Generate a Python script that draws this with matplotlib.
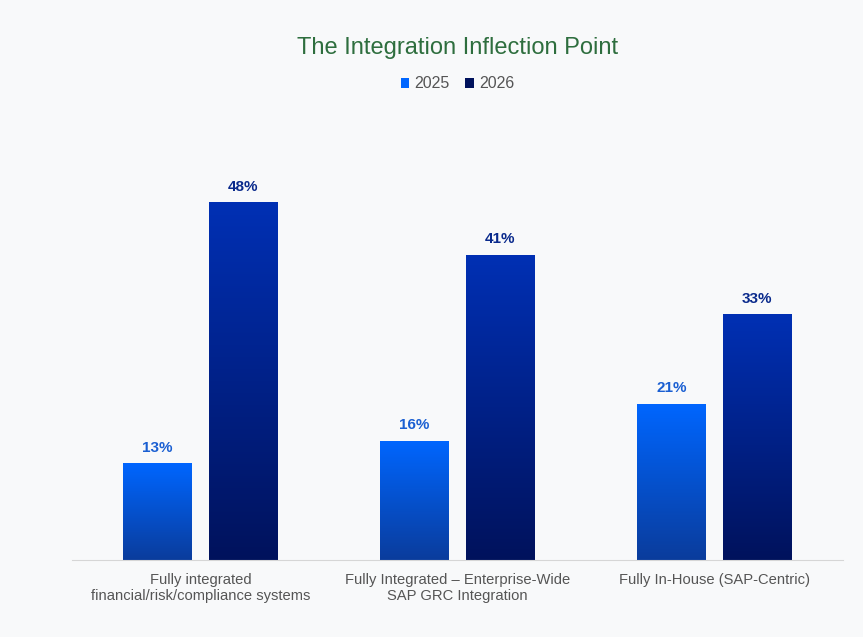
import matplotlib.pyplot as plt
import numpy as np
from matplotlib import colors
from matplotlib.patches import Patch

plt.rcParams['font.family'] = ['Liberation Sans', 'DejaVu Sans']

categories = ["Fully integrated\nfinancial/risk/compliance systems",
              "Fully Integrated \u2013 Enterprise-Wide\nSAP GRC Integration",
              "Fully In-House (SAP-Centric)"]
years = ["2025", "2026"]
values_2025 = [13, 16, 21]
values_2026 = [48, 41, 33]

# top / bottom colours of the gradients
grad_2025 = ["#0066ff", "#0a3c9c"]
grad_2026 = ["#0030b4", "#00125c"]
label_colors = ["#1a5fd2", "#0a2a8c"]

bg = "#f8f9fa"
fig = plt.figure(figsize=(8.63, 6.37), dpi=100, facecolor=bg)
ax = fig.add_axes([72 / 863, 1 - 560 / 637, 771 / 863, 444 / 637])
ax.set_facecolor(bg)

x = np.arange(len(categories))
width = 0.268
offset = 0.167

series = [(values_2025, grad_2025, -offset, label_colors[0]),
          (values_2026, grad_2026, offset, label_colors[1])]

for vals, grad, off, lc in series:
    bars = ax.bar(x + off, vals, width, color="none", edgecolor="none")
    cmap = colors.LinearSegmentedColormap.from_list("g", [grad[1], grad[0]])
    for b, v in zip(bars, vals):
        x0, w = b.get_x(), b.get_width()
        grad_img = np.linspace(0, 1, 256).reshape(-1, 1)
        im = ax.imshow(grad_img, cmap=cmap, origin="lower", aspect="auto",
                       extent=[x0, x0 + w, 0, v], zorder=2)
        im.set_clip_path(b)
        ax.annotate(f"{v}%", (x0 + w / 2, v), xytext=(0, 6), textcoords="offset points",
                    ha="center", va="bottom", fontsize=11, fontweight="bold", color=lc)

ax.set_xlim(-0.5, 2.5)
ax.set_ylim(0, 59.6)
ax.set_xticks(x)
ax.set_xticklabels(categories, fontsize=10.6, color="#555555", linespacing=1.12)
ax.tick_params(axis="x", length=0, pad=9.5)
ax.set_yticks([])
for s in ["top", "right", "left"]:
    ax.spines[s].set_visible(False)
ax.spines["bottom"].set_color("#d6d6d6")

cx = (72 + 843) / 2 / 863
fig.text(cx, 1 - 48 / 637, "The Integration Inflection Point", ha="center", va="center",
         fontsize=17, color="#2e6e3e")

handles = [Patch(facecolor=grad_2025[0], label=years[0]),
           Patch(facecolor=grad_2026[1], label=years[1])]
fig.legend(handles=handles, loc="center", bbox_to_anchor=(cx, 1 - 84 / 637), ncol=2,
           frameon=False, fontsize=11.5, handlelength=0.55, handleheight=0.55,
           handletextpad=0.3, columnspacing=1.0, labelcolor="#555555")

fig.savefig("out.png", dpi=100, facecolor=bg)
